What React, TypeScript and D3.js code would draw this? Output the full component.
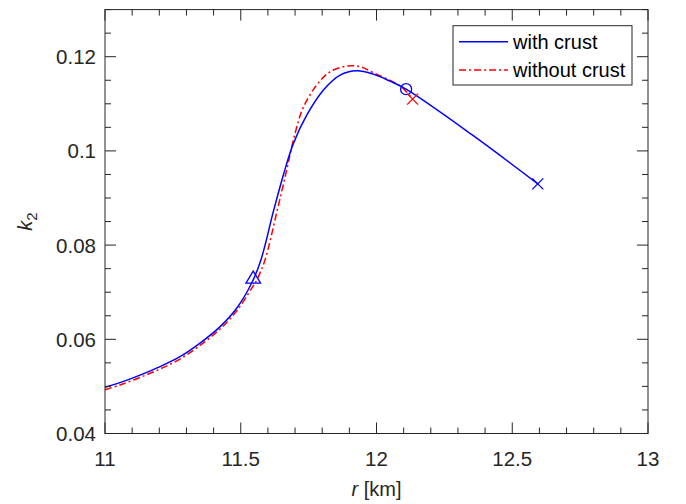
import React from "react";
import * as d3 from "d3";

// With crust (blue solid)
const withCrustR = [11.0, 11.055, 11.129, 11.203, 11.276, 11.35, 11.424, 11.485, 11.540, 11.574, 11.62, 11.657, 11.694, 11.743, 11.804, 11.866, 11.927, 11.988, 12.05, 12.109, 12.35, 12.594];
const withCrustK = [0.0498, 0.0508, 0.0524, 0.0542, 0.0563, 0.0592, 0.0627, 0.0666, 0.0719, 0.0768, 0.0871, 0.0949, 0.1016, 0.1076, 0.1129, 0.1161, 0.1170, 0.1163, 0.1148, 0.1131, 0.1035, 0.093];

// Without crust (red dash-dot)
const withoutCrustR = [11.0, 11.055, 11.129, 11.203, 11.276, 11.35, 11.424, 11.485, 11.540, 11.559, 11.589, 11.632, 11.669, 11.70, 11.73, 11.78, 11.829, 11.89, 11.939, 11.988, 12.087, 12.133];
const withoutCrustK = [0.0493, 0.0503, 0.0519, 0.0537, 0.0558, 0.0587, 0.0622, 0.0660, 0.0708, 0.0726, 0.0768, 0.0868, 0.0959, 0.1037, 0.1092, 0.1140, 0.1168, 0.1180, 0.1179, 0.1166, 0.1138, 0.1110];

// Markers
const triangleMarker = { r: 11.546, k: 0.0731 };
const circleMarker = { r: 12.109, k: 0.1131 };
const blueCrossMarker = { r: 12.594, k: 0.093 };
const redCrossMarker = { r: 12.133, k: 0.111 };

const xTicks = [11, 11.5, 12, 12.5, 13];
const xTickLabels = ["11", "11.5", "12", "12.5", "13"];
const yTicks = [0.04, 0.06, 0.08, 0.1, 0.12];
const yTickLabels = ["0.04", "0.06", "0.08", "0.1", "0.12"];
const legendLabels = ["with crust", "without crust"];

const W = 686, H = 504;
const L = 105, R = 648, T = 9.6, B = 433.5;
const AX = "#262626";
const FONT = "'Liberation Sans', Arial, Helvetica, sans-serif";

export default function App() {
  const x = d3.scaleLinear().domain([11, 13]).range([L, R]);
  const y = d3.scaleLinear().domain([0.04, 0.13]).range([B, T]);
  const line = d3.line<[number, number]>().x(d => x(d[0])).y(d => y(d[1])).curve(d3.curveCatmullRom.alpha(0.5));
  const blue = withCrustR.map((r, i) => [r, withCrustK[i]] as [number, number]);
  const red = withoutCrustR.map((r, i) => [r, withoutCrustK[i]] as [number, number]);

  const xMinor = d3.range(0, 21).map(i => 11 + i * 0.1);
  const yMinor = d3.range(0, 19).map(i => 0.04 + i * 0.005);
  const isMajorX = (v: number) => xTicks.some(t => Math.abs(t - v) < 1e-6);
  const isMajorY = (v: number) => yTicks.some(t => Math.abs(t - v) < 1e-6);
  const maj = 11, min = 6;

  const cross = (cx: number, cy: number, s: number, color: string) => (
    <g stroke={color} strokeWidth={1.3}>
      <line x1={cx - s} y1={cy - s} x2={cx + s} y2={cy + s} />
      <line x1={cx - s} y1={cy + s} x2={cx + s} y2={cy - s} />
    </g>
  );
  const tx = x(triangleMarker.r), ty = y(triangleMarker.k);

  return (
    <svg width={W} height={H} style={{ position: "absolute", left: 0, top: 0 }} fontFamily={FONT}>
      <rect x={0} y={0} width={W} height={H} fill="#fff" />
      {/* curves */}
      <path d={line(red) || ""} fill="none" stroke="#ff0000" strokeWidth={1.5} strokeDasharray="7,3,2,3" />
      <path d={line(blue) || ""} fill="none" stroke="#0000ff" strokeWidth={1.5} />
      {/* markers */}
      <path d={`M${tx - 7.3},${ty + 5.5} L${tx + 7.3},${ty + 5.5} L${tx},${ty - 6.5} Z`} fill="none" stroke="#0000ff" strokeWidth={1.3} />
      <circle cx={x(circleMarker.r)} cy={y(circleMarker.k)} r={5.5} fill="none" stroke="#0000ff" strokeWidth={1.3} />
      {cross(x(blueCrossMarker.r), y(blueCrossMarker.k), 5.5, "#0000ff")}
      {cross(x(redCrossMarker.r), y(redCrossMarker.k), 5.5, "#ff0000")}
      {/* axes box */}
      <rect x={L} y={T} width={R - L} height={B - T} fill="none" stroke={AX} strokeWidth={1} />
      {xMinor.map((v, i) => {
        const len = isMajorX(v) ? maj : min;
        const px = x(v);
        return (
          <g key={"xt" + i} stroke={AX} strokeWidth={1}>
            <line x1={px} x2={px} y1={B} y2={B - len} />
            <line x1={px} x2={px} y1={T} y2={T + len} />
          </g>
        );
      })}
      {yMinor.map((v, i) => {
        const len = isMajorY(v) ? maj : min;
        const py = y(v);
        return (
          <g key={"yt" + i} stroke={AX} strokeWidth={1}>
            <line x1={L} x2={L + len} y1={py} y2={py} />
            <line x1={R} x2={R - len} y1={py} y2={py} />
          </g>
        );
      })}
      {xTicks.map((v, i) => (
        <text key={"xl" + i} x={x(v)} y={466} textAnchor="middle" fontSize={20.5} fill={AX}>{xTickLabels[i]}</text>
      ))}
      {yTicks.map((v, i) => (
        <text key={"yl" + i} x={96} y={y(v) + 7.4} textAnchor="end" fontSize={20.5} fill={AX}>{yTickLabels[i]}</text>
      ))}
      {/* axis labels */}
      <text x={(L + R) / 2} y={496} textAnchor="middle" fontSize={20} fill={AX}>
        <tspan fontStyle="italic">r</tspan> [km]
      </text>
      <text transform={`translate(32,${(T + B) / 2}) rotate(-90)`} textAnchor="middle" fontSize={20} fill={AX}>
        <tspan fontStyle="italic">k</tspan><tspan fontSize={15} dy={5}>2</tspan>
      </text>
      {/* legend */}
      <rect x={453} y={25.7} width={179} height={59.3} fill="#fff" stroke={AX} strokeWidth={1} />
      <line x1={459} x2={508} y1={41.7} y2={41.7} stroke="#0000ff" strokeWidth={1.5} />
      <line x1={459} x2={508} y1={70} y2={70} stroke="#ff0000" strokeWidth={1.5} strokeDasharray="7,3,2,3" />
      <text x={513} y={49} fontSize={20} fill="#000">{legendLabels[0]}</text>
      <text x={513} y={77.3} fontSize={20} fill="#000">{legendLabels[1]}</text>
    </svg>
  );
}
